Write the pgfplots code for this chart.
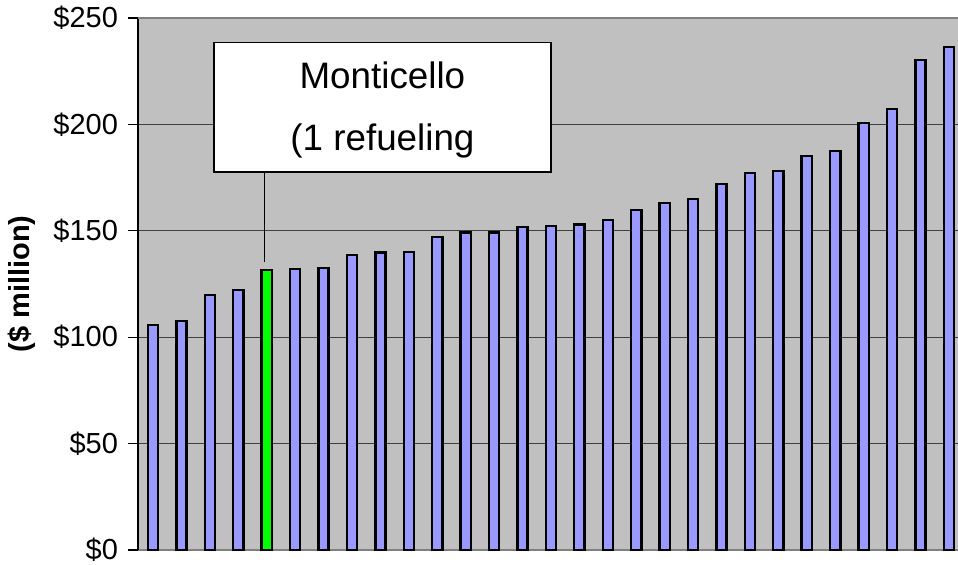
\documentclass[border=0pt]{standalone}
\usepackage{pgfplots}
\pgfplotsset{compat=1.18}
\usepackage{fontspec}
\setmainfont{Liberation Sans}
\definecolor{bgc}{HTML}{C0C0C0}
\definecolor{barc}{HTML}{9999FF}
\definecolor{grn}{HTML}{00FF00}
\definecolor{gridc}{HTML}{404040}
\definecolor{axc}{HTML}{808080}
\begin{document}
\begin{tikzpicture}
\begin{axis}[
  name=ax,
  scale only axis,
  width=410pt, height=266pt,
  xmin=-0.528, xmax=28.32,
  ymin=0, ymax=250,
  axis x line*=bottom,
  axis y line*=left,
  x axis line style={-, draw=axc, line width=1pt},
  y axis line style={-, draw=black, line width=0.6pt},
  xtick=\empty,
  ytick={0,50,100,150,200,250},
  yticklabels={\$0,\$50,\$100,\$150,\$200,\$250},
  tick align=outside,
  major tick length=5pt,
  every tick/.style={black, line width=0.6pt},
  yticklabel style={font=\fontsize{14.5}{16}\selectfont, anchor=east, xshift=-1.5pt},
  ymajorgrids,
  grid style={gridc, line width=0.5pt},
  axis background/.style={fill=bgc},
  ylabel={(\$ million)},
  every axis y label/.style={at={(rel axis cs:0,0.5)}, xshift=-58pt, rotate=90, anchor=center, font=\fontsize{14.5}{16}\selectfont\bfseries},
  clip=false,
]
\addplot[ybar, bar width=5.1pt, bar shift=0pt, fill=barc, draw=black, line width=1.2pt] coordinates {
 (0,105.7) (1,107.7) (2,119.8) (3,122.1) (5,132.1) (6,132.6) (7,138.7) (8,139.8) (9,140.0)
 (10,147.2) (11,149.2) (12,149.2) (13,151.7) (14,152.2) (15,153.0) (16,155.1) (17,159.8)
 (18,163.0) (19,164.9) (20,172.1) (21,177.1) (22,178.0) (23,185.1) (24,187.6) (25,200.6)
 (26,207.3) (27,230.3) (28,236.4)
};
\addplot[ybar, bar width=5.1pt, bar shift=0pt, fill=grn, draw=black, line width=1.2pt] coordinates {
 (4,131.5)
};
\draw[axc, line width=1pt] (rel axis cs:0,1) -- (rel axis cs:1,1);
% callout
\draw[black, line width=0.6pt] (axis cs:3.915,177.6) -- (axis cs:3.915,135.3);
\draw[black, line width=0.6pt] (axis cs:4.01,177.6) -- (axis cs:4.71,187.0);
\draw[black, fill=white, line width=0.6pt] (axis cs:2.145,177.6) rectangle (axis cs:14.0,238.3);
\node[anchor=base, inner sep=0pt, font=\fontsize{18.4}{20}\selectfont] at (axis cs:8.07,216.9) {Monticello};
\node[anchor=base west, inner sep=0pt, font=\fontsize{18.4}{20}\selectfont] at (axis cs:4.82,187.5) {(1 refueling};
\coordinate (SW) at (rel axis cs:0,0);
\coordinate (NE) at (rel axis cs:1,1);
\end{axis}
\pgfresetboundingbox
\path ([shift={(-69pt,-7.5pt)}]SW) rectangle ([shift={(0pt,9pt)}]NE);
\end{tikzpicture}
\end{document}
